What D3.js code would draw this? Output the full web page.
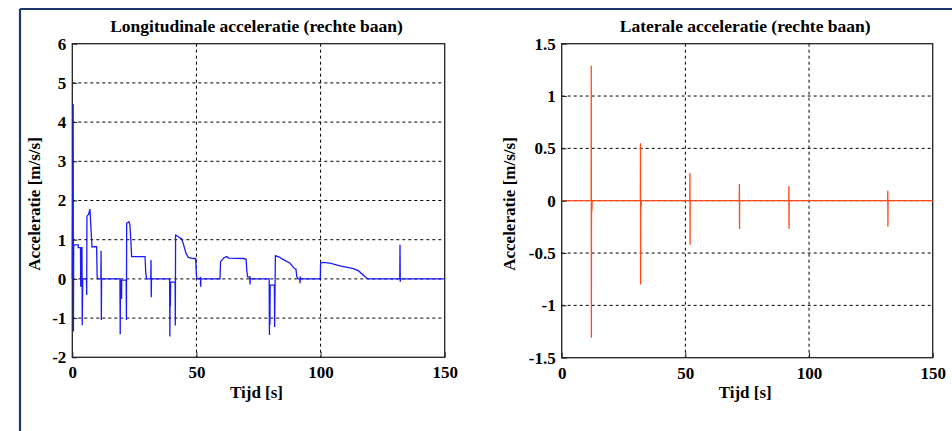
<!DOCTYPE html>
<html><head><meta charset="utf-8">
<script src="https://cdn.jsdelivr.net/npm/d3@7"></script>
<style>
html,body{margin:0;padding:0;background:#fff;}
svg{display:block;}
</style></head>
<body>
<script>
// ---- data ----
const xTicks = [0, 50, 100, 150];
const yTicksLong = [-2, -1, 0, 1, 2, 3, 4, 5, 6];
const yTicksLat = [-1.5, -1, -0.5, 0, 0.5, 1, 1.5];
const yTickLabelsLat = ["-1.5", "-1", "-0.5", "0", "0.5", "1", "1.5"];

const longTime = [0,0.35,0.45,0.55,2.4,2.4,3.3,3.4,3.5,3.9,4.0,4.2,5.7,5.8,5.9,6.6,7.1,7.9,7.9,9.8,10.0,10.3,11.5,11.6,11.7,11.8,
  19.2,19.3,19.4,19.8,19.85,19.9,21.7,21.8,21.9,22.8,23.2,23.5,23.9,29.3,29.6,29.9,31.6,31.7,31.8,31.9,
  39.2,39.3,39.4,39.5,39.6,41.4,41.5,41.6,42.5,43.4,44.0,44.7,45.8,46.7,48.7,49.7,50.0,50.3,51.5,51.6,51.7,51.8,
  59.5,59.7,61.1,62.2,63.0,69.1,70.0,70.3,70.6,71.5,71.6,71.7,71.9,
  79.3,79.4,79.5,79.6,79.7,81.4,81.5,81.8,83.6,84.5,87.7,89.4,90.1,90.4,91.0,91.6,91.7,91.8,91.9,
  99.9,100.0,100.8,103.8,107.8,113.2,115.2,118.6,119.2,131.9,132.0,132.1,132.2,150];
const longAcc = [0,4.46,-1.34,0.87,0.87,0.80,0.80,-0.2,0.80,0.80,-1.18,0,0,-0.41,1.60,1.65,1.78,0.86,0.82,0.82,0.05,0,0,0.72,-1.05,0,
  0,-1.41,-0.03,-0.03,-0.51,-0.03,-0.03,-1.05,1.42,1.46,1.38,1.08,0.57,0.57,0.14,0,0,0.48,-0.47,0,
  0,-1.47,-0.08,-0.69,-0.08,-0.08,-1.19,1.12,1.09,1.04,1.03,0.9,0.65,0.55,0.52,0.52,0.09,0,0,0.05,-0.2,0,
  0,0.44,0.54,0.57,0.53,0.52,0.50,0.2,0.05,0.05,-0.14,0.03,0,
  0,-1.43,-0.16,-1.17,-0.16,-0.16,-1.23,0.59,0.55,0.51,0.40,0.27,0.25,0.06,0,0,-0.11,0.06,0,
  0,0.40,0.42,0.40,0.33,0.26,0.21,0.02,0,0,0.87,-0.07,0,0];

const latTime = [0,11.9,11.95,12.0,12.05,12.2,12.3,31.8,31.85,31.9,31.95,32.1,32.2,51.8,51.85,51.9,51.95,
  71.8,71.85,71.9,71.95,91.8,91.85,91.9,91.95,131.8,131.85,131.9,131.95,150];
const latAcc = [0,0,1.29,-1.31,0,-0.1,0,0,0.55,-0.80,0,-0.06,0,0,0.265,-0.42,0,
  0,0.16,-0.27,0,0,0.14,-0.27,0,0,0.095,-0.25,0,0];

const titles = ["Longitudinale acceleratie (rechte baan)", "Laterale acceleratie (rechte baan)"];
const xLabel = "Tijd [s]";
const yLabel = "Acceleratie [m/s/s]";

// ---- drawing ----
const W = 952, H = 431;
const FONT = "Liberation Serif";
const svg = d3.select("body").append("svg").attr("width", W).attr("height", H);

// page frame
svg.append("line").attr("x1",20).attr("x2",W).attr("y1",9).attr("y2",9).attr("stroke","#1f3768").attr("stroke-width",2.2);
svg.append("line").attr("x1",20).attr("x2",20).attr("y1",9).attr("y2",H).attr("stroke","#1f3768").attr("stroke-width",2.2);

function txt(sel) {
  return sel.attr("font-family", FONT).attr("font-weight", "bold").attr("fill", "#000");
}

function panel(o) {
  const x = d3.scaleLinear().domain([0,150]).range([o.left, o.right]);
  const y = d3.scaleLinear().domain(o.yDomain).range([o.bottom, o.top]);
  const g = svg.append("g");
  // grid
  g.selectAll(".gx").data(xTicks.slice(1,-1)).enter().append("line")
    .attr("x1", d=>x(d)).attr("x2", d=>x(d)).attr("y1", o.top).attr("y2", o.bottom)
    .attr("stroke","#000").attr("stroke-width",1).attr("stroke-dasharray","3,3");
  g.selectAll(".gy").data(o.yTicks.slice(1,-1)).enter().append("line")
    .attr("y1", d=>y(d)).attr("y2", d=>y(d)).attr("x1", o.left).attr("x2", o.right)
    .attr("stroke","#000").attr("stroke-width",1).attr("stroke-dasharray","3,3");
  // frame
  g.append("rect").attr("x",o.left).attr("y",o.top).attr("width",o.right-o.left).attr("height",o.bottom-o.top)
    .attr("fill","none").attr("stroke","#222").attr("stroke-width",1.3);
  // line
  const pts = o.t.map((t,i)=>[t, o.a[i]]);
  g.append("path").datum(pts)
    .attr("d", d3.line().x(d=>x(d[0])).y(d=>y(d[1])))
    .attr("fill","none").attr("stroke", o.color).attr("stroke-width",1.3);
  // axes
  const ax = g.append("g").attr("transform",`translate(0,${o.bottom})`)
    .call(d3.axisBottom(x).tickValues(xTicks).tickSize(-5).tickPadding(9).tickFormat(d3.format("d")));
  const ay = g.append("g").attr("transform",`translate(${o.left},0)`)
    .call(d3.axisLeft(y).tickValues(o.yTicks).tickSize(-5).tickPadding(6).tickFormat((d,i)=>o.yLabels[i]));
  [ax, ay].forEach(a=>{
    a.attr("font-family", FONT).attr("font-size", 17).attr("font-weight","bold");
    a.select(".domain").remove();
    a.selectAll("line").attr("stroke","#222");
    txt(a.selectAll("text")).attr("font-size", 17);
  });
  ax.selectAll("text").attr("dy","0.71em");
  // titles and labels
  txt(g.append("text")).attr("x",(o.left+o.right)/2 - 2).attr("y",32).attr("text-anchor","middle")
    .attr("font-size",17.5).text(o.title);
  txt(g.append("text")).attr("x",(o.left+o.right)/2 - 2).attr("y",398).attr("text-anchor","middle")
    .attr("font-size",17).text(xLabel);
  txt(g.append("text")).attr("transform",`translate(${o.yLabelX},204) rotate(-90)`)
    .attr("text-anchor","middle").attr("font-size",17).text(yLabel);
}

panel({left:72.3, right:444.7, top:43.7, bottom:357.3, yDomain:[-2,6], yTicks:yTicksLong,
  yLabels:yTicksLong.map(String), t:longTime, a:longAcc, color:"#1a1aff", title:titles[0], yLabelX:40});
panel({left:561.7, right:932.7, top:43.7, bottom:357.7, yDomain:[-1.5,1.5], yTicks:yTicksLat,
  yLabels:yTickLabelsLat, t:latTime, a:latAcc, color:"#ff4a1c", title:titles[1], yLabelX:515});
</script>
</body></html>
